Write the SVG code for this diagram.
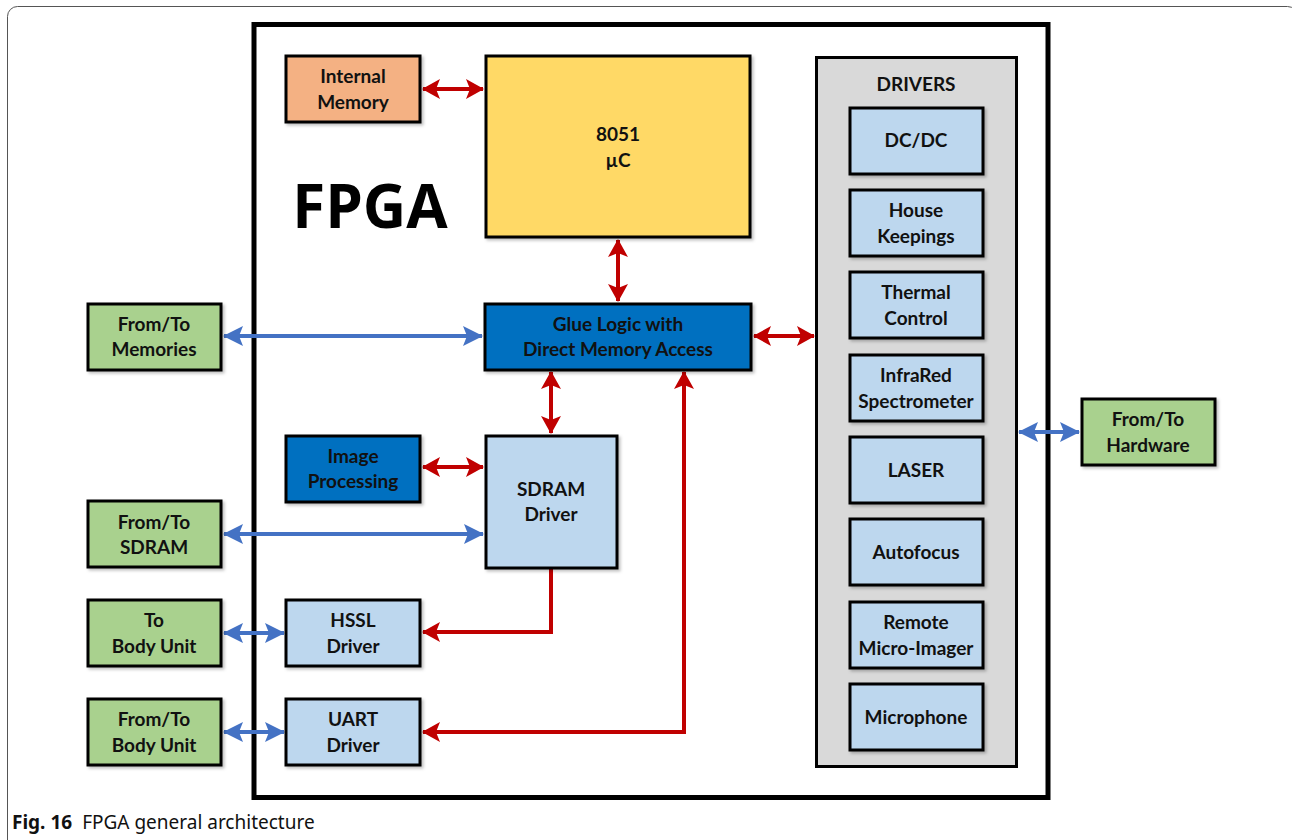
<svg xmlns="http://www.w3.org/2000/svg" width="1292" height="840" viewBox="0 0 1292 840">
<style>
.box{stroke:#000;stroke-width:3;filter:url(#sh)}
.t{font-family:Lato,"Liberation Sans",sans-serif;font-weight:bold;font-size:19px;fill:#111;text-anchor:middle}
.green{fill:#A9D18E}
.lb{fill:#BDD7EE}
.db{fill:#0070C0}
.red{stroke:#C00000;stroke-width:4;fill:none}
.blue{stroke:#4472C4;stroke-width:4;fill:none}
</style>
<defs>
<filter id="sh" x="-10%" y="-10%" width="130%" height="130%">
<feDropShadow dx="2" dy="2" stdDeviation="1.5" flood-color="#000" flood-opacity="0.25"/>
</filter>
<marker id="ar" markerUnits="userSpaceOnUse" markerWidth="18" markerHeight="20" refX="17" refY="10" orient="auto-start-reverse">
<path d="M0,0 L18,10 L0,20 L4,10 z" fill="#C00000"/>
</marker>
<marker id="ab" markerUnits="userSpaceOnUse" markerWidth="20" markerHeight="20" refX="19" refY="10" orient="auto-start-reverse">
<path d="M0,0 L20,10 L0,20 L4,10 z" fill="#4472C4"/>
</marker>
</defs>
<rect x="0" y="0" width="1292" height="840" fill="#fff"/>
<rect x="7.5" y="6.5" width="1290" height="850" rx="10" fill="none" stroke="#555" stroke-width="1"/>

<g id="fpga">
<rect x="254" y="24.5" width="794" height="773" fill="#fff" stroke="#000" stroke-width="5"/>
<text x="370" y="228" style="font-family:'Open Sans','Liberation Sans',sans-serif;font-weight:bold;font-size:60px;fill:#000;text-anchor:middle">FPGA</text>
</g>

<g id="drivers">
<rect x="816.5" y="57.5" width="200" height="709" fill="#D9D9D9" stroke="#000" stroke-width="3"/>
<text class="t" x="916" y="91">DRIVERS</text>
</g>

<g id="connectors">
<line class="red" x1="423" y1="89" x2="483" y2="89" marker-start="url(#ar)" marker-end="url(#ar)"/>
<line class="red" x1="618" y1="240" x2="618" y2="301" marker-start="url(#ar)" marker-end="url(#ar)"/>
<line class="red" x1="754" y1="336" x2="814" y2="336" marker-start="url(#ar)" marker-end="url(#ar)"/>
<line class="red" x1="551" y1="372" x2="551" y2="433" marker-start="url(#ar)" marker-end="url(#ar)"/>
<line class="red" x1="423" y1="467" x2="483" y2="467" marker-start="url(#ar)" marker-end="url(#ar)"/>
<polyline class="red" points="551,568 551,632 423,632" marker-end="url(#ar)"/>
<polyline class="red" points="423,732 684,732 684,372" marker-start="url(#ar)" marker-end="url(#ar)"/>
<line class="blue" x1="224" y1="336" x2="482" y2="336" marker-start="url(#ab)" marker-end="url(#ab)"/>
<line class="blue" x1="224" y1="534" x2="483" y2="534" marker-start="url(#ab)" marker-end="url(#ab)"/>
<line class="blue" x1="224" y1="633" x2="284" y2="633" marker-start="url(#ab)" marker-end="url(#ab)"/>
<line class="blue" x1="224" y1="732" x2="284" y2="732" marker-start="url(#ab)" marker-end="url(#ab)"/>
<line class="blue" x1="1019" y1="432" x2="1079" y2="432" marker-start="url(#ab)" marker-end="url(#ab)"/>
</g>

<g id="internal-memory">
<rect class="box" x="286" y="56" width="134" height="66" fill="#F4B183"/>
<text class="t" x="353" y="83">Internal</text>
<text class="t" x="353" y="109">Memory</text>
</g>
<g id="uc8051">
<rect class="box" x="486" y="56" width="264" height="181" fill="#FFD966"/>
<text class="t" x="618" y="141">8051</text>
<text class="t" x="618" y="167">µC</text>
</g>
<g id="glue">
<rect class="box db" x="485" y="304" width="266" height="66"/>
<text class="t" x="618" y="331">Glue Logic with</text>
<text class="t" x="618" y="356">Direct Memory Access</text>
</g>
<g id="image-processing">
<rect class="box db" x="286" y="436" width="134" height="66"/>
<text class="t" x="353" y="463">Image</text>
<text class="t" x="353" y="488">Processing</text>
</g>
<g id="sdram-driver">
<rect class="box lb" x="486" y="436" width="131" height="132"/>
<text class="t" x="551" y="496">SDRAM</text>
<text class="t" x="551" y="521">Driver</text>
</g>
<g id="hssl-driver">
<rect class="box lb" x="286" y="600" width="134" height="66"/>
<text class="t" x="353" y="627">HSSL</text>
<text class="t" x="353" y="653">Driver</text>
</g>
<g id="uart-driver">
<rect class="box lb" x="286" y="699" width="134" height="66"/>
<text class="t" x="353" y="726">UART</text>
<text class="t" x="353" y="752">Driver</text>
</g>
<g id="memories">
<rect class="box green" x="88" y="304" width="133" height="66"/>
<text class="t" x="154" y="331">From/To</text>
<text class="t" x="154" y="356">Memories</text>
</g>
<g id="sdram">
<rect class="box green" x="88" y="501" width="133" height="66"/>
<text class="t" x="154" y="529">From/To</text>
<text class="t" x="154" y="554">SDRAM</text>
</g>
<g id="to-body-unit">
<rect class="box green" x="88" y="600" width="133" height="66"/>
<text class="t" x="154" y="627">To</text>
<text class="t" x="154" y="653">Body Unit</text>
</g>
<g id="fromto-body-unit">
<rect class="box green" x="88" y="699" width="133" height="66"/>
<text class="t" x="154" y="726">From/To</text>
<text class="t" x="154" y="752">Body Unit</text>
</g>
<g id="hardware">
<rect class="box green" x="1082" y="399" width="133" height="66"/>
<text class="t" x="1148" y="426">From/To</text>
<text class="t" x="1148" y="452">Hardware</text>
</g>

<g id="dcdc"><rect class="box lb" x="850" y="108" width="133" height="66"/><text class="t" x="916" y="147">DC/DC</text></g>
<g id="housekeepings"><rect class="box lb" x="850" y="190" width="133" height="66"/><text class="t" x="916" y="217">House</text><text class="t" x="916" y="243">Keepings</text></g>
<g id="thermal"><rect class="box lb" x="850" y="272" width="133" height="66"/><text class="t" x="916" y="299">Thermal</text><text class="t" x="916" y="325">Control</text></g>
<g id="infrared"><rect class="box lb" x="850" y="355" width="133" height="66"/><text class="t" x="916" y="382">InfraRed</text><text class="t" x="916" y="408">Spectrometer</text></g>
<g id="laser"><rect class="box lb" x="850" y="437" width="133" height="66"/><text class="t" x="916" y="477">LASER</text></g>
<g id="autofocus"><rect class="box lb" x="850" y="519" width="133" height="66"/><text class="t" x="916" y="559">Autofocus</text></g>
<g id="remote"><rect class="box lb" x="850" y="602" width="133" height="66"/><text class="t" x="916" y="629">Remote</text><text class="t" x="916" y="655">Micro-Imager</text></g>
<g id="microphone"><rect class="box lb" x="850" y="684" width="133" height="66"/><text class="t" x="916" y="724">Microphone</text></g>

<text x="12" y="829" style="font-family:'Noto Sans','Open Sans',sans-serif;font-size:19px;fill:#111"><tspan font-weight="bold">Fig. 16</tspan><tspan dx="10">FPGA general architecture</tspan></text>
</svg>
